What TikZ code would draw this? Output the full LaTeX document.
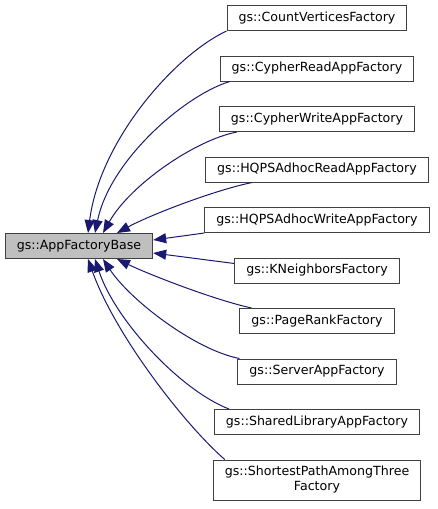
\documentclass[tikz,border=0pt]{standalone}
\usepackage{fontspec}
\setmainfont{DejaVu Sans}
\usetikzlibrary{positioning,arrows.meta}
\definecolor{edgeblue}{HTML}{191970}
\definecolor{boxgray}{HTML}{404040}
\definecolor{basefill}{HTML}{BFBFBF}

\begin{document}
\begin{tikzpicture}[
		x=1pt, y=1pt,
		align=center,
		node distance=24.5pt,
		font=\fontsize{12.6}{15}\selectfont,
		boxit/.style={
				rectangle,
				draw=boxgray,
				fill=#1,
				line width=1pt,
				inner xsep=11.5pt,
				minimum height=25pt
			},
		boxit/.default=white,
		basebox/.style={boxit=basefill},
		inherit/.style={
				draw=edgeblue,
				line width=1pt,
				-{Triangle[length=13pt,width=10pt]}
			}
	]
	\useasboundingbox (0,0) rectangle (437,-509);

	\node[basebox] (appbase) at (79,-246) {gs::AppFactoryBase};

	\node[boxit] (countvertices) at (317,-18) {gs::CountVerticesFactory};
	\node[boxit, below=of countvertices] (cypherread) {gs::CypherReadAppFactory};
	\node[boxit, below=of cypherread] (cypherwrite) {gs::CypherWriteAppFactory};
	\node[boxit, below=of cypherwrite] (hqpsread) {gs::HQPSAdhocReadAppFactory};
	\node[boxit, below=of hqpsread] (hqpswrite) {gs::HQPSAdhocWriteAppFactory};
	\node[boxit, below=of hqpswrite] (kneighbors) {gs::KNeighborsFactory};
	\node[boxit, below=of kneighbors] (pagerank) {gs::PageRankFactory};
	\node[boxit, below=of pagerank] (serverapp) {gs::ServerAppFactory};
	\node[boxit, below=of serverapp] (sharedlib) {gs::SharedLibraryAppFactory};
	\node[boxit, below=of sharedlib, minimum height=40pt] (shortestpath) {gs::ShortestPathAmongThree\\Factory};

	% upper side of the base
	\draw[inherit] (countvertices.south west) .. controls (175,-55) and (100,-140) .. ([xshift=9pt]appbase.north);
	\draw[inherit] ([xshift=10pt]cypherread.south west) .. controls (185,-95) and (110,-160) .. ([xshift=16pt]appbase.north);
	\draw[inherit] ([xshift=18pt]cypherwrite.south west) .. controls (195,-140) and (130,-185) .. ([xshift=24pt]appbase.north);
	\draw[inherit] ([xshift=47pt]hqpsread.south west) .. controls (215,-190) and (150,-215) .. ([xshift=38pt]appbase.north);

	% right side of the base
	\draw[inherit] (hqpswrite.south west) -- ([yshift=6pt]appbase.east);
	\draw[inherit] ([yshift=7pt]kneighbors.west) -- ([yshift=-7pt]appbase.east);

	% lower side of the base
	\draw[inherit] ([xshift=12pt]pagerank.north west) .. controls (215,-300) and (150,-275) .. ([xshift=38pt]appbase.south);
	\draw[inherit] ([xshift=2pt]serverapp.north west) .. controls (195,-350) and (130,-300) .. ([xshift=24pt]appbase.south);
	\draw[inherit] ([xshift=15pt]sharedlib.north west) .. controls (180,-390) and (115,-320) .. ([xshift=16pt]appbase.south);
	\draw[inherit] ([xshift=12pt]shortestpath.north west) .. controls (185,-425) and (115,-335) .. ([xshift=9pt]appbase.south);
\end{tikzpicture}
\end{document}
